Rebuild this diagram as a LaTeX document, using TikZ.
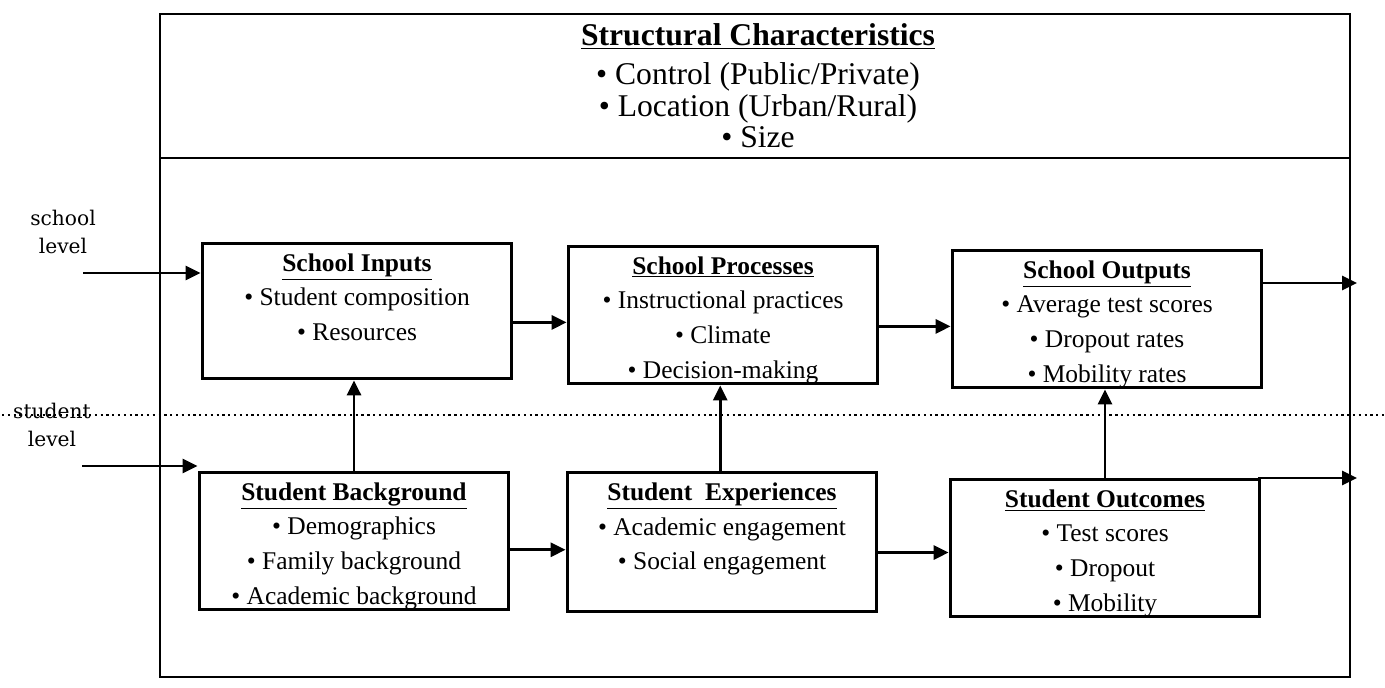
\documentclass[tikz,border=0pt]{standalone}
\usepackage{fontspec}
\setmainfont{Liberation Serif}
\newfontfamily\levelfont{DejaVu Serif}
\usetikzlibrary{arrows.meta, positioning}

\tikzset{
  stage/.style={draw, line width=1.7pt, minimum width=6.2cm, minimum height=2.7cm,
    inner sep=0pt, align=center, font=\fontsize{14.5}{19.8}\selectfont},
  flow/.style={-{Triangle[length=8.5pt, width=8pt]}, line width=1.6pt},
  lvl/.style={align=center, font=\levelfont\fontsize{11.5}{16}\selectfont},
}
\newcommand{\boxhead}[1]{\rule{0pt}{16pt}\underline{\textbf{#1}}}
\newcommand{\itm}{\textbullet\ }

\begin{document}
\begin{tikzpicture}[x=0.02cm, y=-0.02cm]
      \useasboundingbox (0,0) rectangle (1385,688);

      % Draw the outer frame and the structural part
      \draw[line width=1.4pt] (160,14) rectangle (1350,677);
      \draw[line width=1.4pt] (160,158) -- (1350,158);
      \node[align=center, font=\fontsize{18}{18}\selectfont] (struct) at (758,86)
        {\underline{\textbf{Structural Characteristics}}\\[4pt] \itm Control (Public/Private)\\
         \itm Location (Urban/Rural)\\ \itm Size};

      % Draw the level divider
      \draw[dotted, line width=1.3pt] (2,415) -- (1385,415);
      \node[lvl] (schlab) at (63,232) {school\\level};
      \node[lvl] (stulab) at (52,425) {student\\level};

      % Draw the school level boxes
      \node[stage] (sin) at (357,311)
        {\boxhead{School Inputs}\\ \itm Student composition\\ \itm Resources\\[-4pt] \strut};
      \node[stage] (sproc) at (723,315)
        {\boxhead{School Processes}\\ \itm Instructional practices\\ \itm Climate\\ \itm Decision-making};
      \node[stage] (sout) at (1107,319)
        {\boxhead{School Outputs}\\ \itm Average test scores\\ \itm Dropout rates\\ \itm Mobility rates};

      % Draw the student level boxes
      \node[stage] (sback) at (354,541)
        {\boxhead{Student Background}\\ \itm Demographics\\ \itm Family background\\ \itm Academic background};
      \node[stage] (sexp) at (722,542)
        {\boxhead{Student\ \ Experiences}\\ \itm Academic engagement\\ \itm Social engagement\\[-2pt] \strut};
      \node[stage] (soutc) at (1105,548)
        {\boxhead{Student Outcomes}\\ \itm Test scores\\ \itm Dropout\\ \itm Mobility};

      % Free ends of the wires
      \coordinate (schin) at (83,273);
      \coordinate (stuin) at (82,466);
      \coordinate (schend) at (1357,283);
      \coordinate (stuend) at (1357,478);

      % Draw the wires entering and leaving
      \draw[flow] (schin) -- (schin -| sin.west);
      \draw[flow] (stuin) -- (stuin -| sback.west);
      \draw[flow] (sout.east |- schend) -- (schend);
      \draw[flow] ([xshift=-2pt]soutc.east |- stuend) -- (stuend);

      % Draw the wires between the boxes
      \draw[flow] ([yshift=-6.5pt]sin.east) -- ([yshift=-6.5pt]sin.east -| sproc.west);
      \draw[flow] ([yshift=-6.5pt]sproc.east) -- ([yshift=-6.5pt]sproc.east -| sout.west);
      \draw[flow] ([yshift=-5pt]sback.east) -- ([yshift=-5pt]sback.east -| sexp.west);
      \draw[flow] ([yshift=-6pt]sexp.east) -- ([yshift=-6pt]sexp.east -| soutc.west);

      % Draw the wires going up a level
      \draw[flow] (sback.north) -- (sback.north |- sin.south);
      \draw[flow] ([xshift=-1pt]sexp.north) -- ([xshift=-1pt]sexp.north |- sproc.south);
      \draw[flow] (soutc.north) -- (soutc.north |- sout.south);

    \end{tikzpicture}
\end{document}
